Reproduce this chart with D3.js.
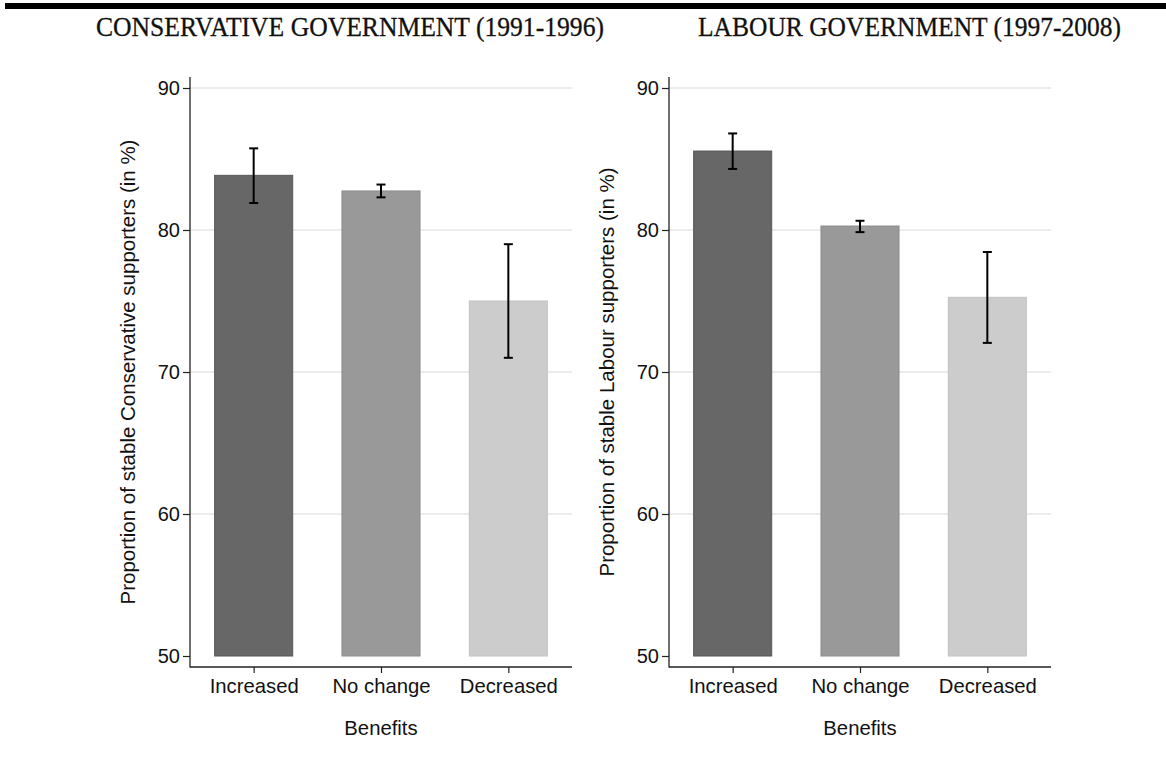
<!DOCTYPE html>
<html><head><meta charset="utf-8">
<script src="https://cdn.jsdelivr.net/npm/d3@7/dist/d3.min.js"></script>
<style>
html,body{margin:0;padding:0;background:#fff;}
svg{display:block;}
text{font-family:"Liberation Sans",Arial,Helvetica,sans-serif;fill:#111;}
</style></head>
<body>
<svg id="chart" width="1166" height="760"></svg>
<script>
const categories = ["Increased", "No change", "Decreased"];
const yTicks = [50, 60, 70, 80, 90];
const panelTitles = ["CONSERVATIVE GOVERNMENT (1991-1996)", "LABOUR GOVERNMENT (1997-2008)"];
const yLabels = ["Proportion of stable Conservative supporters (in %)", "Proportion of stable Labour supporters (in %)"];
const xLabel = "Benefits";
const conservativeMean = [83.85, 82.75, 75.0];
const conservativeLow  = [81.9, 82.3, 71.0];
const conservativeHigh = [85.75, 83.2, 79.0];
const labourMean = [85.56, 80.28, 75.26];
const labourLow  = [84.3, 79.85, 72.05];
const labourHigh = [86.8, 80.65, 78.45];
const barColors = ["#676767", "#999999", "#cccccc"];
const barStrokes = ["#575757", "#8c8c8c", "#c2c2c2"];

const svg = d3.select("#chart");

// top rule
svg.append("rect").attr("x", 5).attr("y", 3).attr("width", 1161).attr("height", 6).attr("fill", "#000");

// titles
const titleSpecs = [{x: 96, w: 508}, {x: 698, w: 423}];
panelTitles.forEach((t, i) => {
  svg.append("text").attr("x", titleSpecs[i].x).attr("y", 36)
    .attr("textLength", titleSpecs[i].w).attr("lengthAdjust", "spacingAndGlyphs")
    .style("font-family", "'Liberation Serif','DejaVu Serif',serif")
    .style("font-size", "28px").style("stroke", "#111").style("stroke-width", "0.3px").text(t);
});

const panels = [
  {x0: 190, mean: conservativeMean, low: conservativeLow, high: conservativeHigh, ylab: yLabels[0]},
  {x0: 669, mean: labourMean, low: labourLow, high: labourHigh, ylab: yLabels[1]}
];
const W = 382, yTop = 77, yAxisBase = 667;

panels.forEach(p => {
  const g = svg.append("g").attr("transform", `translate(${p.x0},0)`);
  const x = d3.scalePoint().domain(categories).range([0, W]).padding(0.5);
  const y = d3.scaleLinear().domain([50, 90]).range([656, 88]);
  const bw = x.step() * 0.613;

  // gridlines
  g.append("g").selectAll("line").data(yTicks.filter(t => t > 50)).join("line")
    .attr("x1", 0).attr("x2", W).attr("y1", d => y(d)).attr("y2", d => y(d))
    .attr("stroke", "#e6e6e6").attr("stroke-width", 1.5);

  // bars
  g.append("g").selectAll("rect").data(categories).join("rect")
    .attr("x", d => x(d) - bw / 2).attr("width", bw)
    .attr("y", (d, i) => y(p.mean[i])).attr("height", (d, i) => y(50) - y(p.mean[i]))
    .attr("fill", (d, i) => barColors[i]).attr("stroke", (d, i) => barStrokes[i]).attr("stroke-width", 1);

  // error bars
  const eb = g.append("g").attr("stroke", "#000").attr("stroke-width", 2);
  categories.forEach((c, i) => {
    eb.append("line").attr("x1", x(c)).attr("x2", x(c)).attr("y1", y(p.high[i])).attr("y2", y(p.low[i]));
    eb.append("line").attr("x1", x(c) - 4.5).attr("x2", x(c) + 4.5).attr("y1", y(p.high[i])).attr("y2", y(p.high[i]));
    eb.append("line").attr("x1", x(c) - 4.5).attr("x2", x(c) + 4.5).attr("y1", y(p.low[i])).attr("y2", y(p.low[i]));
  });

  // y axis
  const yAxis = d3.axisLeft(y).tickValues(yTicks).tickSize(7).tickPadding(3).tickFormat(d3.format("d"));
  const ya = g.append("g").call(yAxis);
  ya.select(".domain").remove();
  ya.selectAll(".tick line").attr("stroke", "#222").attr("stroke-width", 1.2);
  ya.selectAll(".tick text").style("font-size", "20px").style("font-family", "'Liberation Sans',Arial,sans-serif").attr("fill", "#111");
  g.append("line").attr("x1", 0).attr("x2", 0).attr("y1", yTop).attr("y2", yAxisBase + 0.6)
    .attr("stroke", "#222").attr("stroke-width", 1.3);

  // x axis
  const xAxis = d3.axisBottom(x).tickSize(6).tickPadding(6);
  const xa = g.append("g").attr("transform", `translate(0,${yAxisBase})`).call(xAxis);
  xa.select(".domain").remove();
  xa.selectAll(".tick line").attr("stroke", "#222").attr("stroke-width", 1.2);
  xa.selectAll(".tick text").style("font-size", "20.3px").style("font-family", "'Liberation Sans',Arial,sans-serif").attr("fill", "#111");
  g.append("line").attr("x1", 0).attr("x2", W).attr("y1", yAxisBase).attr("y2", yAxisBase)
    .attr("stroke", "#222").attr("stroke-width", 1.3);

  // axis titles
  g.append("text").attr("x", W / 2).attr("y", 735).attr("text-anchor", "middle")
    .style("font-size", "20.3px").text(xLabel);
  g.append("text").attr("transform", `translate(-55,${(yTop + yAxisBase) / 2}) rotate(-90)`)
    .attr("text-anchor", "middle").style("font-size", "20.5px").text(p.ylab);
});
</script>
</body></html>
